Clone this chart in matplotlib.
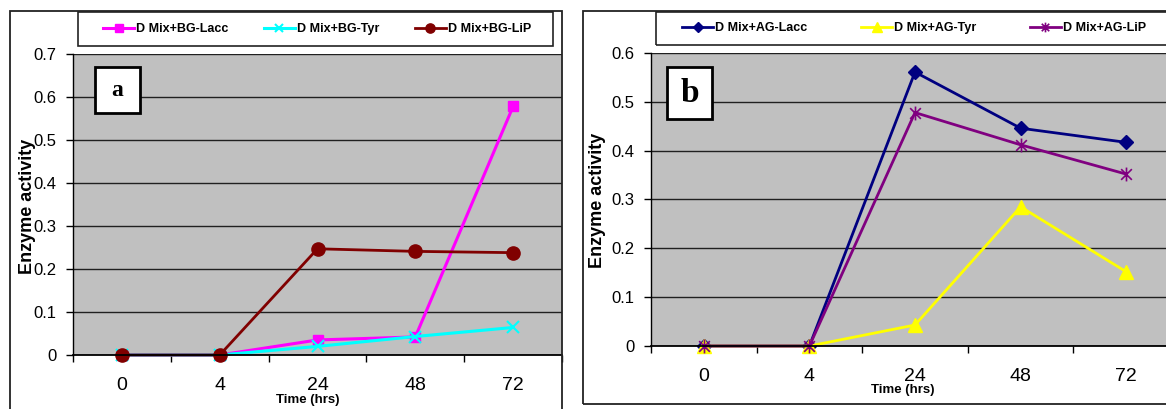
import matplotlib.pyplot as plt
import numpy as np
from matplotlib.patches import Rectangle
from matplotlib.path import Path

times = ["0", "4", "24", "48", "72"]

bg_lacc = [0.0, 0.0, 0.035, 0.042, 0.578]
bg_tyr = [0.0, 0.0, 0.020, 0.043, 0.064]
bg_lip = [0.0, 0.0, 0.247, 0.241, 0.238]

ag_lacc = [0.0, 0.0, 0.561, 0.446, 0.417]
ag_tyr = [0.0, 0.0, 0.043, 0.285, 0.152]
ag_lip = [0.0, 0.0, 0.478, 0.412, 0.352]

W, H = 1166, 409
NARROW = ["Liberation Sans Narrow", "Liberation Sans", "DejaVu Sans"]
ARIAL = ["Liberation Sans", "DejaVu Sans"]

star = Path([(-1, -1), (1, 1), (-1, 1), (1, -1), (0, -1.3), (0, 1.3)],
            [Path.MOVETO, Path.LINETO] * 3)


def fx(px):
    return px / W


def fy(py):
    return 1 - py / H


def box(l, r, t, b, **kw):
    fig.add_artist(Rectangle((fx(l), fy(b)), (r - l) / W, (b - t) / H,
                             transform=fig.transFigure, clip_on=False, **kw))


def style_axes(ax, ymax):
    x = np.arange(len(times))
    ax.set_facecolor("#c0c0c0")
    ax.set_xlim(-0.5, len(times) - 0.5)
    ax.set_ylim(0, ymax)
    ax.set_yticks(np.arange(0, ymax + 0.01, 0.1))
    ax.set_yticklabels([f"{v:g}" for v in np.arange(0, ymax + 0.01, 0.1)],
                       family=ARIAL, fontsize=12)
    ax.set_xticks(x)
    ax.set_xticklabels(times, family=NARROW, fontsize=14)
    ax.set_xticks(np.arange(-0.5, len(times), 1), minor=True)
    ax.tick_params(axis="x", which="major", length=0, pad=16)
    ax.tick_params(axis="x", which="minor", length=5, direction="out", width=1)
    ax.tick_params(axis="y", length=5, direction="out", width=1, pad=7)
    ax.yaxis.grid(True, color="#202020", linewidth=1)
    ax.set_axisbelow(True)
    for s in ["top", "right"]:
        ax.spines[s].set_visible(False)
    ax.spines["left"].set_linewidth(1)
    ax.spines["bottom"].set_linewidth(1.3)


fig = plt.figure(figsize=(W / 100, H / 100), dpi=100)

# outer frames
box(10, 562, 11, 430, fill=False, edgecolor="#222222", linewidth=1.3)
box(583, 1200, 11, 404, fill=False, edgecolor="#222222", linewidth=1.3)
# legend frames
box(78, 553, 12, 46, fill=False, edgecolor="#222222", linewidth=1.2)
box(656, 1200, 12, 45, fill=False, edgecolor="#222222", linewidth=1.2)

# panel a
ax1 = fig.add_axes([fx(73), fy(355), (562 - 73) / W, (355 - 54) / H])
style_axes(ax1, 0.7)
x = np.arange(len(times))
ax1.plot(x, bg_lacc, color="#ff00ff", lw=2.2, marker="s", ms=7.5,
         label="D Mix+BG-Lacc", clip_on=False)
ax1.plot(x, bg_tyr, color="#00ffff", lw=2.2, marker="x", ms=9, mew=1.5,
         label="D Mix+BG-Tyr", clip_on=False)
ax1.plot(x, bg_lip, color="#800000", lw=2, marker="o", ms=9.5,
         label="D Mix+BG-LiP", clip_on=False)

# panel b
ax2 = fig.add_axes([fx(651), fy(346), 528 / W, (346 - 53) / H])
style_axes(ax2, 0.6)
ax2.plot(x, ag_lacc, color="#000080", lw=2, marker="D", ms=7.5,
         label="D Mix+AG-Lacc", clip_on=False)
ax2.plot(x, ag_tyr, color="#ffff00", lw=2, marker="^", ms=9.5,
         label="D Mix+AG-Tyr", clip_on=False)
ax2.plot(x, ag_lip, color="#800080", lw=2, marker=star, ms=10, mew=1.2,
         mfc="none", label="D Mix+AG-LiP", clip_on=False)

# legends, their frames are drawn separately above
for ax, (l, r, yc) in [(ax1, (103, 531, 29)), (ax2, (682, 1146, 28))]:
    ax.legend(loc="center", bbox_to_anchor=(fx(l), fy(yc + 10), (r - l) / W, 20 / H),
              bbox_transform=fig.transFigure, mode="expand", ncol=3,
              frameon=False, borderaxespad=0, borderpad=0,
              handlelength=2.5, handletextpad=0.15, markerscale=0.7,
              prop={"family": NARROW, "weight": "bold", "size": 9})

# axis titles
fig.text(fx(27), fy(206), "Enzyme activity", rotation=90, ha="center", va="center",
         family=ARIAL, weight="bold", fontsize=13)
fig.text(fx(598), fy(200), "Enzyme activity", rotation=90, ha="center", va="center",
         family=ARIAL, weight="bold", fontsize=13)
fig.text(fx(308), fy(400), "Time (hrs)", ha="center", va="center",
         family=NARROW, weight="bold", fontsize=9.5)
fig.text(fx(903), fy(390), "Time (hrs)", ha="center", va="center",
         family=NARROW, weight="bold", fontsize=9.5)

# panel labels
for (l, r, t, b), letter, fs in [((95, 140, 67, 113), "a", 17),
                                 ((667, 712, 67, 119), "b", 24)]:
    box(l, r, t, b, facecolor="white", edgecolor="black", linewidth=2)
    fig.text(fx((l + r) / 2), fy((t + b) / 2), letter, ha="center", va="center",
             family=["Liberation Serif", "DejaVu Serif"], weight="bold", fontsize=fs)

fig.savefig("out.png", dpi=100)
